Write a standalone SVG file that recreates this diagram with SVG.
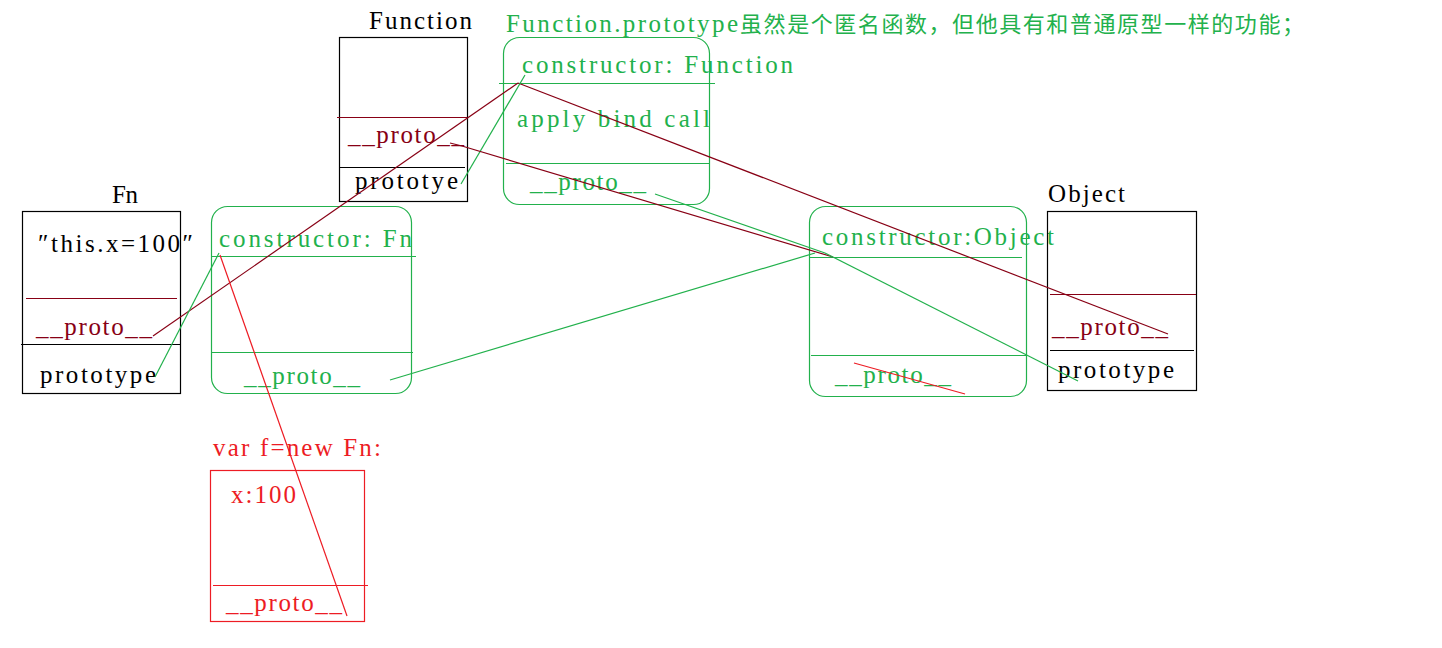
<svg xmlns="http://www.w3.org/2000/svg" width="1442" height="648" viewBox="0 0 1442 648">
<style>
text{font-family:"Liberation Serif","Noto Sans CJK SC",serif;font-size:25px}
.k{fill:#000}.g{fill:#22B14C}.d{fill:#880015}.r{fill:#ED1C24}
.bk{fill:none;stroke:#000;stroke-width:1.2}
.bg{fill:none;stroke:#22B14C;stroke-width:1.2}
.br{fill:none;stroke:#ED1C24;stroke-width:1.2}
.lk{stroke:#000;stroke-width:1.2}
.lg{stroke:#22B14C;stroke-width:1.2}
.ld{stroke:#880015;stroke-width:1.2}
.lr{stroke:#ED1C24;stroke-width:1.2}
</style>
<rect width="1442" height="648" fill="#fff"/>
<text class="g" x="506" y="32"><tspan textLength="232" lengthAdjust="spacing">Function.prototype</tspan><tspan x="740" y="32" textLength="564" lengthAdjust="spacing" style="font-size:22px">虽然是个匿名函数，但他具有和普通原型一样的功能；</tspan></text>
<g id="Function">
<text class="k" x="369" y="29" textLength="103" lengthAdjust="spacing">Function</text>
<rect class="bk" x="339.5" y="37.5" width="128" height="164"/>
<line class="ld" x1="337" y1="117.5" x2="467" y2="117.5"/>
<text class="d" x="348" y="143" textLength="116" lengthAdjust="spacing">__proto__</text>
<line class="lk" x1="339" y1="167.5" x2="465" y2="167.5"/>
<text class="k" x="355" y="189" textLength="103" lengthAdjust="spacing">prototye</text>
</g>
<g id="FunctionPrototype">
<rect class="bg" x="503.5" y="37.5" width="206" height="167" rx="16"/>
<text class="g" x="522" y="73" textLength="271" lengthAdjust="spacing">constructor: Function</text>
<line class="lg" x1="499" y1="83.5" x2="715" y2="83.5"/>
<text class="g" x="517" y="127" textLength="193" lengthAdjust="spacing">apply bind call</text>
<line class="lg" x1="506" y1="163.5" x2="709" y2="163.5"/>
<text class="g" x="530" y="190" textLength="116" lengthAdjust="spacing">__proto__</text>
</g>
<g id="Fn">
<text class="k" x="112" y="203" textLength="26" lengthAdjust="spacing">Fn</text>
<rect class="bk" x="22.5" y="211.5" width="158" height="182"/>
<text class="k" x="38" y="252" textLength="155" lengthAdjust="spacing">″this.x=100″</text>
<line class="ld" x1="26" y1="298.5" x2="177" y2="298.5"/>
<text class="d" x="36" y="335" textLength="116" lengthAdjust="spacing">__proto__</text>
<line class="lk" x1="21" y1="344.5" x2="180" y2="344.5"/>
<text class="k" x="40" y="383" textLength="116" lengthAdjust="spacing">prototype</text>
</g>
<g id="FnPrototype">
<rect class="bg" x="211.5" y="206.5" width="200" height="187" rx="16"/>
<text class="g" x="219" y="247" textLength="193" lengthAdjust="spacing">constructor: Fn</text>
<line class="lg" x1="211" y1="256.5" x2="416" y2="256.5"/>
<line class="lg" x1="211" y1="352.5" x2="413" y2="352.5"/>
<text class="g" x="244" y="384" textLength="116" lengthAdjust="spacing">__proto__</text>
</g>
<g id="ObjectPrototype">
<rect class="bg" x="809.5" y="206.5" width="217" height="190" rx="16"/>
<text class="g" x="822" y="245" textLength="232" lengthAdjust="spacing">constructor:Object</text>
<line class="lg" x1="810" y1="257.5" x2="1022" y2="257.5"/>
<line class="lg" x1="811" y1="355.5" x2="1026" y2="355.5"/>
<text class="g" x="835" y="383" textLength="116" lengthAdjust="spacing">__proto__</text>
<line class="lr" x1="854" y1="363" x2="965" y2="394"/>
</g>
<g id="Object">
<text class="k" x="1048" y="202" textLength="77" lengthAdjust="spacing">Object</text>
<rect class="bk" x="1047.5" y="211.5" width="149" height="179"/>
<line class="ld" x1="1050" y1="294.5" x2="1196" y2="294.5"/>
<text class="d" x="1052" y="335" textLength="116" lengthAdjust="spacing">__proto__</text>
<line class="lk" x1="1050" y1="350.5" x2="1194" y2="350.5"/>
<text class="k" x="1058" y="378" textLength="116" lengthAdjust="spacing">prototype</text>
</g>
<g id="f">
<text class="r" x="213" y="456" textLength="168" lengthAdjust="spacing">var f=new Fn:</text>
<rect class="br" x="210.5" y="470.5" width="154" height="151"/>
<text class="r" x="231" y="503" textLength="65" lengthAdjust="spacing">x:100</text>
<line class="lr" x1="213" y1="585.5" x2="368" y2="585.5"/>
<text class="r" x="226" y="611" textLength="116" lengthAdjust="spacing">__proto__</text>
</g>
<g id="connectors">
<line class="ld" x1="153" y1="336" x2="518" y2="83"/>
<line class="ld" x1="518" y1="83" x2="1168" y2="334"/>
<line class="lg" x1="155" y1="377" x2="219" y2="253"/>
<line class="lr" x1="220" y1="255" x2="347" y2="616"/>
<line class="lg" x1="390" y1="380" x2="815" y2="253"/>
<line class="lg" x1="461" y1="184" x2="525" y2="75"/>
<polyline class="ld" fill="none" points="450,143 462,146 833,257"/>
<line class="lg" x1="655" y1="194" x2="825" y2="253"/>
<line class="lg" x1="825" y1="253" x2="1078" y2="381"/>
</g>
</svg>
